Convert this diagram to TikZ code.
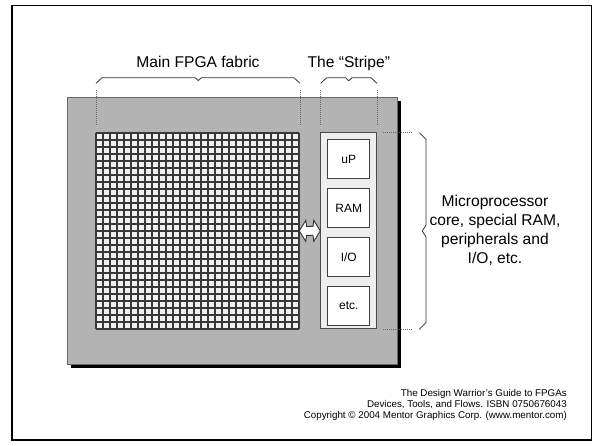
\documentclass[tikz,border=0pt]{standalone}
\usepackage{fontspec}
\setmainfont{Liberation Sans}
\usepackage{xcolor}
\usetikzlibrary{positioning, calc, shadows}

\definecolor{chipgray}{HTML}{B3B3B3}
\definecolor{chipedge}{HTML}{6A6A6A}
\definecolor{cellfill}{HTML}{F0F0F0}
\definecolor{stripefill}{HTML}{EEEEEE}

\begin{document}
\begin{tikzpicture}[
        x=1pt, y=-1pt,
        chipbox/.style={
            rectangle,
            draw=chipedge,
            fill=chipgray,
            line width=1pt,
            inner sep=0pt,
            minimum width=330pt,
            minimum height=267pt,
            drop shadow={shadow xshift=4pt, shadow yshift=-4pt, fill=black, opacity=1}
        },
        cellgrid/.style={
            rectangle,
            fill=cellfill,
            inner sep=0pt,
            minimum width=203pt,
            minimum height=196pt
        },
        cellline/.style={line width=1.8pt, draw=black!78},
        stripebox/.style={
            rectangle,
            draw=black!70,
            fill=stripefill,
            line width=0.9pt,
            inner sep=0pt,
            minimum width=56pt,
            minimum height=196pt
        },
        unit/.style={
            rectangle,
            draw=black!75,
            fill=white,
            line width=0.9pt,
            inner sep=0pt,
            minimum width=42pt,
            minimum height=39pt,
            font=\fontsize{12}{14}\selectfont
        },
        linkarrow/.style={draw=black!80, fill=white, line width=0.9pt, line join=miter},
        hint/.style={font=\fontsize{15.6}{19.2}\selectfont, inner sep=0pt},
        note/.style={font=\fontsize{9.8}{10.8}\selectfont, inner sep=0pt, align=right},
        brace/.style={line width=0.8pt, draw=black!80},
        guide/.style={line width=1pt, draw=black!60, dash pattern=on 1pt off 1pt}
    ]

    \useasboundingbox (0,0) rectangle (602,445);
    \draw [line width=1.5pt] (12,5.5) rectangle (591.5,440);

    % the device
    \node (chip) [chipbox] at (232,230.5) {};
    \node (fabric) [cellgrid] at (197.5,231) {};
    \foreach \i in {0,...,29}
        \draw [cellline] ($(fabric.north west)+(\i*7,0)$) -- ($(fabric.south west)+(\i*7,0)$);
    \foreach \j in {0,...,28}
        \draw [cellline] ($(fabric.north west)+(0,\j*7)$) -- ($(fabric.north east)+(0,\j*7)$);

    \node (stripe) [stripebox] at (348.8,230.8) {};
    \node (up) [unit] at (348.8,159) {uP};
    \node (ram) [unit, below=9pt of up] {RAM};
    \node (io) [unit, below=9pt of ram] {I/O};
    \node (etc) [unit, below=9pt of io] {etc.};

    % fat two-way arrow between fabric and stripe
    \coordinate (link) at ($(fabric.east)!0.5!(stripe.west)$);
    \draw [linkarrow, shift={(link)}] (-10.5,0) -- (-4,-10.5) -- (-3.2,-4.5) -- (3.2,-4.5) -- (4,-10.5)
        -- (10.5,0) -- (4,10.5) -- (3.2,4.5) -- (-3.2,4.5) -- (-4,10.5) -- cycle;

    % labels and braces
    \node (fabriclabel) [hint, anchor=base] at (198,67.3) {Main FPGA fabric};
    \node (stripelabel) [hint, anchor=base] at (348.8,67.3) {The “Stripe”};
    \node (stripenote) [hint, align=center] at (495,230.5) {Microprocessor\\core, special RAM,\\peripherals and\\I/O, etc.};

    \draw [brace] (96,83.3) -- (102,77.7) -- (195,77.7) -- (198.3,80.5) -- (201.6,77.7) -- (294,77.7) -- (300,83.3);
    \draw [brace] (320.7,83.3) -- (326.7,77.7) -- (345.5,77.7) -- (348.8,80.8) -- (352.1,77.7) -- (371,77.7) -- (377,83.3);
    \draw [brace] (419.3,132.7) -- (426,139.4) -- (426,225) -- (422.3,231) -- (426,237) -- (426,322.6) -- (419.3,329.3);

    \foreach \gx in {96,300,320.7,377}
        \draw [guide] (\gx,90) -- (\gx,125);
    \draw [guide] (383,132.7) -- (413,132.7);
    \draw [guide] (383,329.3) -- (413,329.3);

    \node (credit) [note, anchor=east] at (567,405) {The Design Warrior’s Guide to FPGAs\\Devices, Tools, and Flows. ISBN 0750676043\\Copyright © 2004 Mentor Graphics Corp. (www.mentor.com)};

\end{tikzpicture}
\end{document}
